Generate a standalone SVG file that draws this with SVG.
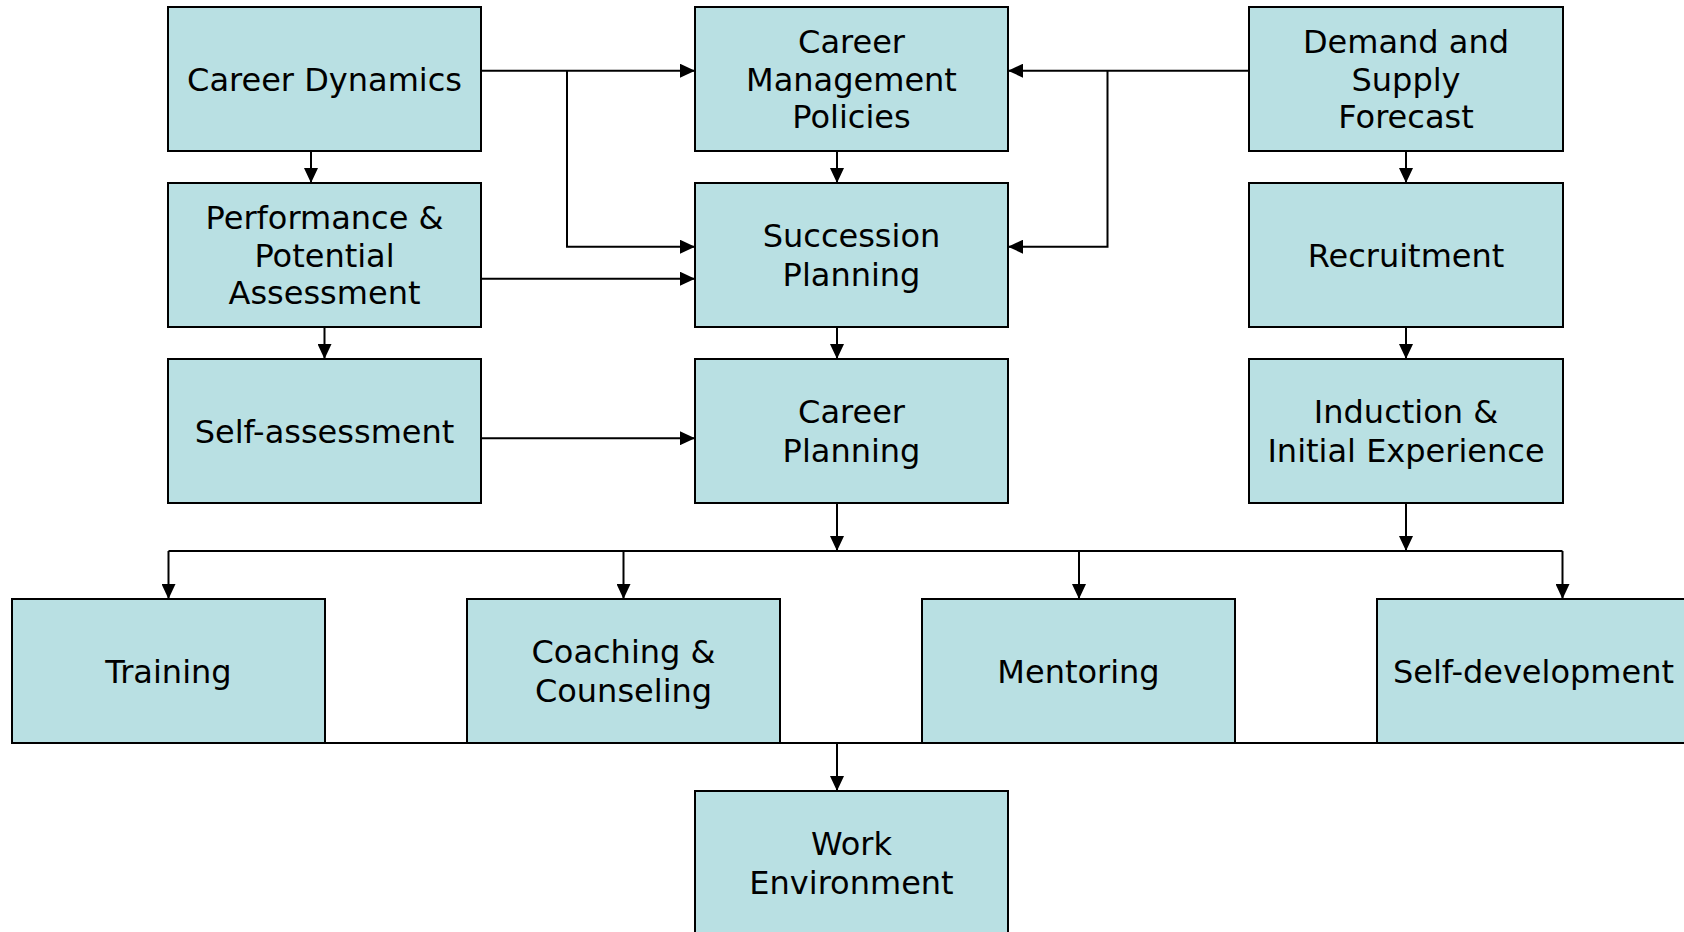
<svg xmlns="http://www.w3.org/2000/svg" width="1684" height="932" viewBox="0 0 1684 932">
<style>
.box{fill:#B9E0E3;stroke:#000;stroke-width:2}
.t{font-family:"DejaVu Sans",Verdana,sans-serif;font-size:32px;fill:#000;text-anchor:middle}
.c{fill:none;stroke:#000;stroke-width:2}
.a{marker-end:url(#ah)}
</style>
<defs>
<marker id="ah" markerUnits="userSpaceOnUse" markerWidth="15" markerHeight="14" refX="15" refY="7" orient="auto" viewBox="0 0 15 14">
<path d="M0,0 L15,7 L0,14 z" fill="#000"/>
</marker>
</defs>
<rect width="1684" height="932" fill="#fff"/>
<g id="connectors">
<path class="c a" d="M481,70.7 H695"/>
<path class="c a" d="M567,70.7 V246.7 H695"/>
<path class="c a" d="M311,151 V183"/>
<path class="c a" d="M481,278.7 H695"/>
<path class="c a" d="M324.5,327 V359"/>
<path class="c a" d="M481,438.2 H695"/>
<path class="c a" d="M837,151 V183"/>
<path class="c a" d="M837,327 V359"/>
<path class="c a" d="M1249,70.7 H1008"/>
<path class="c a" d="M1107.5,70.7 V246.7 H1008"/>
<path class="c a" d="M1406,151 V183"/>
<path class="c a" d="M1406,327 V359"/>
<path class="c a" d="M837,503 V551"/>
<path class="c a" d="M1406,503 V551"/>
<path class="c" d="M168.5,551 H1562.5"/>
<path class="c a" d="M168.5,551 V599"/>
<path class="c a" d="M623.5,551 V599"/>
<path class="c a" d="M1079,551 V599"/>
<path class="c a" d="M1562.5,551 V599"/>
<path class="c" d="M12,743 H1684"/>
<path class="c a" d="M837,743 V791"/>
</g>
<g id="career-dynamics"><rect class="box" x="168" y="7" width="313" height="144"/><text class="t" x="324.5" y="90.5">Career Dynamics</text></g>
<g id="career-management-policies"><rect class="box" x="695" y="7" width="313" height="144"/><text class="t" x="851.5" y="52.7">Career</text><text class="t" x="851.5" y="90.5">Management</text><text class="t" x="851.5" y="128.3">Policies</text></g>
<g id="demand-supply-forecast"><rect class="box" x="1249" y="7" width="314" height="144"/><text class="t" x="1406" y="52.7">Demand and</text><text class="t" x="1406" y="90.5">Supply</text><text class="t" x="1406" y="128.3">Forecast</text></g>
<g id="performance-assessment"><rect class="box" x="168" y="183" width="313" height="144"/><text class="t" x="324.5" y="228.7">Performance &amp;</text><text class="t" x="324.5" y="266.5">Potential</text><text class="t" x="324.5" y="304.3">Assessment</text></g>
<g id="succession-planning"><rect class="box" x="695" y="183" width="313" height="144"/><text class="t" x="851.5" y="247.2">Succession</text><text class="t" x="851.5" y="285.8">Planning</text></g>
<g id="recruitment"><rect class="box" x="1249" y="183" width="314" height="144"/><text class="t" x="1406" y="266.5">Recruitment</text></g>
<g id="self-assessment"><rect class="box" x="168" y="359" width="313" height="144"/><text class="t" x="324.5" y="442.5">Self-assessment</text></g>
<g id="career-planning"><rect class="box" x="695" y="359" width="313" height="144"/><text class="t" x="851.5" y="423.2">Career</text><text class="t" x="851.5" y="461.8">Planning</text></g>
<g id="induction"><rect class="box" x="1249" y="359" width="314" height="144"/><text class="t" x="1406" y="423.2">Induction &amp;</text><text class="t" x="1406" y="461.8">Initial Experience</text></g>
<g id="training"><rect class="box" x="12" y="599" width="313" height="144"/><text class="t" x="168.5" y="682.5">Training</text></g>
<g id="coaching-counseling"><rect class="box" x="467" y="599" width="313" height="144"/><text class="t" x="623.5" y="663.2">Coaching &amp;</text><text class="t" x="623.5" y="701.8">Counseling</text></g>
<g id="mentoring"><rect class="box" x="922" y="599" width="313" height="144"/><text class="t" x="1078.5" y="682.5">Mentoring</text></g>
<g id="self-development"><rect class="box" x="1377" y="599" width="313" height="144"/><text class="t" x="1533.5" y="682.5">Self-development</text></g>
<g id="work-environment"><rect class="box" x="695" y="791" width="313" height="144"/><text class="t" x="851.5" y="855.2">Work</text><text class="t" x="851.5" y="893.8">Environment</text></g>
</svg>
